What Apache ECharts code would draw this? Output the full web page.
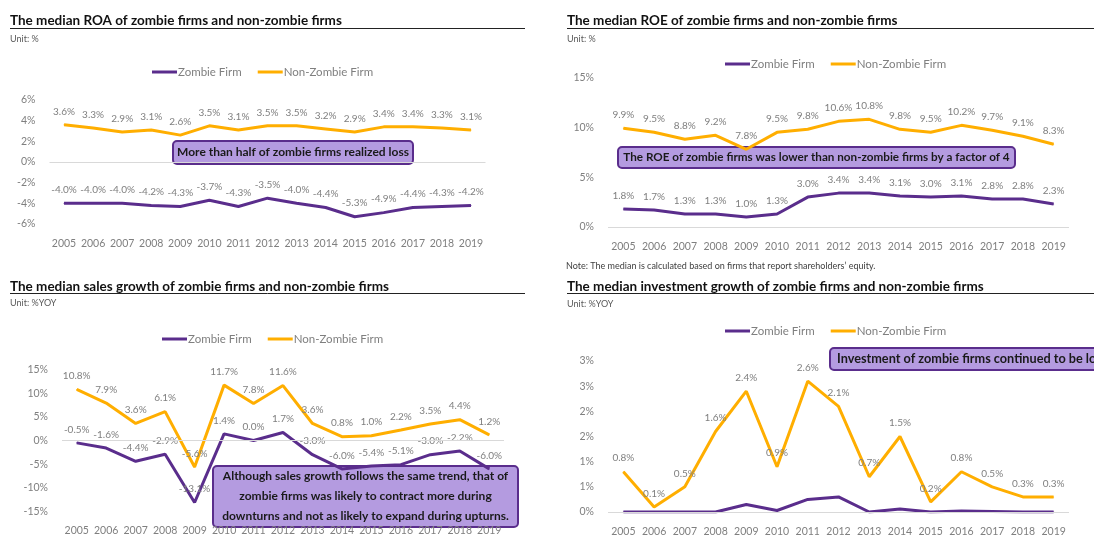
<!DOCTYPE html>
<html>
<head>
<meta charset="utf-8">
<script src="https://cdn.jsdelivr.net/npm/echarts/dist/echarts.min.js"></script>
<style>
  html, body { margin: 0; padding: 0; background: #fff; }
  #chart { width: 1094px; height: 537px; }
</style>
</head>
<body>
<div id="chart"></div>
<script>
// Years on every category axis
const years = ['2005','2006','2007','2008','2009','2010','2011','2012','2013','2014','2015','2016','2017','2018','2019'];

// Median ROA (%)
const roaZombie    = [-4.0, -4.0, -4.0, -4.2, -4.3, -3.7, -4.3, -3.5, -4.0, -4.4, -5.3, -4.9, -4.4, -4.3, -4.2];
const roaNonZombie = [3.6, 3.3, 2.9, 3.1, 2.6, 3.5, 3.1, 3.5, 3.5, 3.2, 2.9, 3.4, 3.4, 3.3, 3.1];

// Median ROE (%)
const roeZombie    = [1.8, 1.7, 1.3, 1.3, 1.0, 1.3, 3.0, 3.4, 3.4, 3.1, 3.0, 3.1, 2.8, 2.8, 2.3];
const roeNonZombie = [9.9, 9.5, 8.8, 9.2, 7.8, 9.5, 9.8, 10.6, 10.8, 9.8, 9.5, 10.2, 9.7, 9.1, 8.3];

// Median sales growth (%YOY)
const salesZombie    = [-0.5, -1.6, -4.4, -2.9, -13.1, 1.4, 0.0, 1.7, -3.0, -6.0, -5.4, -5.1, -3.0, -2.2, -6.0];
const salesNonZombie = [10.8, 7.9, 3.6, 6.1, -5.6, 11.7, 7.8, 11.6, 3.6, 0.8, 1.0, 2.2, 3.5, 4.4, 1.2];

// Median investment growth (%YOY)
const invZombie    = [0.0, 0.0, 0.0, 0.0, 0.15, 0.03, 0.25, 0.3, 0.0, 0.06, 0.0, 0.02, 0.01, 0.0, 0.0];
const invNonZombie = [0.8, 0.1, 0.5, 1.6, 2.4, 0.9, 2.6, 2.1, 0.7, 1.5, 0.2, 0.8, 0.5, 0.3, 0.3];

const seriesNames = ['Zombie Firm', 'Non-Zombie Firm'];

const PURPLE = '#5a2d8c';
const ORANGE = '#ffae00';
const GREY = '#7f7f7f';
const FONT = 'Lato, "Noto Sans", sans-serif';

// Panel layout: grid box in pixels plus axis range
const panels = [
  { left: 49.5, top: 100,   width: 436, height: 124, min: -6,  max: 6,  step: 2,   legendLeft: 147, legendTop: 61 },
  { left: 608,  top: 77.5,  width: 461, height: 149.5, min: 0, max: 15, step: 5,   legendLeft: 720, legendTop: 53 },
  { left: 62,   top: 369.5, width: 442, height: 142, min: -15, max: 15, step: 5,   legendLeft: 157, legendTop: 328 },
  { left: 608,  top: 361,   width: 461, height: 153, min: 0,   max: 3,  step: 0.5, legendLeft: 720, legendTop: 320 }
];

const panelData = [
  [roaZombie, roaNonZombie, true],
  [roeZombie, roeNonZombie, true],
  [salesZombie, salesNonZombie, true],
  [invZombie, invNonZombie, false]
];

function lineSeries(name, data, idx, color, showLabel, withZeroLine) {
  const s = {
    name: name,
    type: 'line',
    xAxisIndex: idx,
    yAxisIndex: idx,
    data: data,
    symbol: 'circle',
    symbolSize: 1,
    lineStyle: { width: 3, color: color },
    itemStyle: { color: color },
    silent: true,
    label: {
      show: showLabel,
      position: 'top',
      distance: 8,
      color: GREY,
      fontSize: 10,
      fontFamily: FONT,
      formatter: p => p.value.toFixed(1) + '%'
    }
  };
  if (withZeroLine) {
    s.markLine = {
      silent: true,
      symbol: 'none',
      label: { show: false },
      lineStyle: { color: '#d9d9d9', width: 1, type: 'solid' },
      data: [{ yAxis: 0 }]
    };
  }
  return s;
}

const grids = [], xAxes = [], yAxes = [], series = [], legends = [];
panels.forEach((p, i) => {
  grids.push({ left: p.left, top: p.top, width: p.width, height: p.height });
  xAxes.push({
    type: 'category', gridIndex: i, data: years, boundaryGap: true,
    axisLine: { show: false }, axisTick: { show: false },
    axisLabel: { interval: 0, color: GREY, fontSize: 10.5, fontFamily: FONT, margin: 14 }
  });
  yAxes.push({
    type: 'value', gridIndex: i, min: p.min, max: p.max, interval: p.step,
    splitLine: { show: false }, axisLine: { show: false }, axisTick: { show: false },
    axisLabel: {
      color: GREY, fontSize: 10.5, fontFamily: FONT, margin: 14,
      formatter: v => Math.round(v) + '%'
    }
  });
  const [z, nz, zombieLabels] = panelData[i];
  series.push(lineSeries(seriesNames[0], z, i, PURPLE, zombieLabels, true));
  series.push(lineSeries(seriesNames[1], nz, i, ORANGE, true, false));
  legends.push({
    left: p.legendLeft, top: p.legendTop, data: seriesNames,
    icon: 'rect', itemWidth: 25, itemHeight: 3, itemGap: 16,
    selectedMode: false,
    textStyle: { color: GREY, fontSize: 11.5, fontFamily: FONT, padding: [0, 0, 0, -4] }
  });
});

// Panel headings, unit captions, note and callout boxes
function heading(text, x, y, lineX1, lineX2, lineY) {
  return [
    { type: 'text', x: x, y: y, silent: true,
      style: { text: text, font: 'bold 13.5px ' + FONT, fill: '#111', align: 'left', verticalAlign: 'middle' } },
    { type: 'line', silent: true, shape: { x1: lineX1, y1: lineY, x2: lineX2, y2: lineY },
      style: { stroke: '#222', lineWidth: 1 } }
  ];
}
function caption(text, x, y, size, color) {
  return { type: 'text', x: x, y: y, silent: true,
    style: { text: text, font: size + 'px ' + FONT, fill: color, align: 'left', verticalAlign: 'middle' } };
}
function callout(x, y, w, h, text, textX, textY, align, size, lineHeight) {
  return [
    { type: 'rect', silent: true, shape: { x: x, y: y, width: w, height: h, r: 4 },
      style: { fill: '#b49be0', stroke: PURPLE, lineWidth: 2 } },
    { type: 'text', x: textX, y: textY, silent: true,
      style: { text: text, font: 'bold ' + size + 'px ' + FONT, fill: '#1a1a1a', align: align,
               verticalAlign: 'middle', lineHeight: lineHeight || 14 } }
  ];
}

const graphics = [].concat(
  heading('The median ROA of zombie firms and non-zombie firms', 10, 21, 10, 525, 28.5),
  heading('The median ROE of zombie firms and non-zombie firms', 567, 21, 567, 1094, 28.5),
  heading('The median sales growth of zombie firms and non-zombie firms', 10, 286.5, 10, 525, 293.5),
  heading('The median investment growth of zombie firms and non-zombie firms', 567, 286.5, 567, 1094, 293.5),
  [
    caption('Unit: %', 10, 39.5, 9, '#595959'),
    caption('Unit: %', 567, 39.5, 9, '#595959'),
    caption('Unit: %YOY', 10, 303, 9, '#595959'),
    caption('Unit: %YOY', 567, 304, 9, '#595959'),
    caption('Note: The median is calculated based on firms that report shareholders\u2019 equity.', 566, 266.5, 9, '#404040')
  ],
  callout(173, 141, 240, 23, 'More than half of zombie firms realized loss', 293, 152.5, 'center', 12),
  callout(618, 147, 397, 21, 'The ROE of zombie firms was lower than non-zombie firms by a factor of 4', 816.5, 157.5, 'center', 11.7),
  callout(213, 466, 305, 61,
    'Although sales growth follows the same trend, that of\nzombie firms was likely to contract more during\ndownturns and not as likely to expand during upturns.',
    365.5, 496.5, 'center', 12, 20),
  callout(830, 348, 340, 22, 'Investment of zombie firms continued to be low', 837, 359, 'left', 12.7)
);

const chart = echarts.init(document.getElementById('chart'), null, { renderer: 'canvas' });
chart.setOption({
  animation: false,
  backgroundColor: '#fff',
  textStyle: { fontFamily: FONT },
  grid: grids,
  xAxis: xAxes,
  yAxis: yAxes,
  legend: legends,
  series: series,
  graphic: graphics
});
</script>
</body>
</html>
